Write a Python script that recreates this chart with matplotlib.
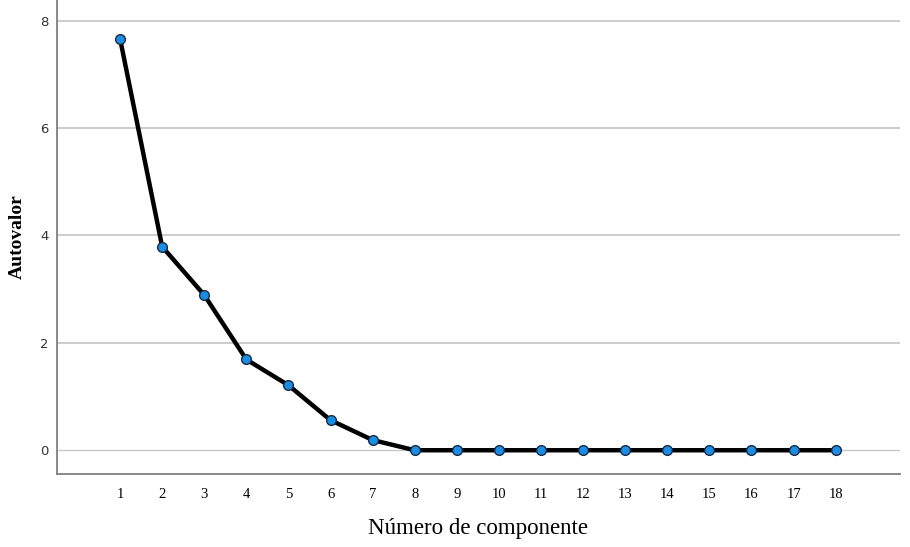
import matplotlib
matplotlib.use("Agg")
import matplotlib.pyplot as plt

components = list(range(1, 19))
eigenvalues = [7.66, 3.79, 2.89, 1.69, 1.21, 0.56, 0.19, 0.0, 0.0, 0.0,
               0.0, 0.0, 0.0, 0.0, 0.0, 0.0, 0.0, 0.0]
y_ticks = [0, 2, 4, 6, 8]
x_label = "Número de componente"
y_label = "Autovalor"

fig = plt.figure(figsize=(9.1, 5.47), dpi=100)
fig.patch.set_facecolor("white")
ax = fig.add_axes([0.0626, 0.133, 0.926, 0.867])

for yv in y_ticks:
    ax.axhline(yv, color="#c8c8c8", lw=1.3 if yv else 1.0, zorder=0)

ax.plot(components, eigenvalues, color="black", lw=3.2, zorder=2,
        marker="o", markersize=7, markerfacecolor="#1a8ee6",
        markeredgecolor="#1a2a40", markeredgewidth=1.0)

ax.set_xlim(-0.5, 19.52)
ax.set_ylim(-0.447, 8.385)
ax.set_xticks(components)
ax.set_yticks(y_ticks)
ax.set_xticklabels([str(c) for c in components], family="Liberation Serif", fontsize=10.5)
ax.set_yticklabels([str(v) for v in y_ticks], family="DejaVu Sans", fontsize=9.5, color="#333333")
ax.tick_params(axis="both", length=0)
ax.tick_params(axis="x", pad=10)
ax.tick_params(axis="y", pad=6)

for s in ["top", "right"]:
    ax.spines[s].set_visible(False)
for s in ["left", "bottom"]:
    ax.spines[s].set_color("#7f7f7f")
    ax.spines[s].set_linewidth(1.3)

ax.set_xlabel(x_label, family="Liberation Serif", fontsize=16.5, labelpad=12)
ax.set_ylabel(y_label, family="Liberation Serif", fontsize=14, fontweight="bold", labelpad=10)

fig.savefig("out.png", dpi=100, facecolor="white")
